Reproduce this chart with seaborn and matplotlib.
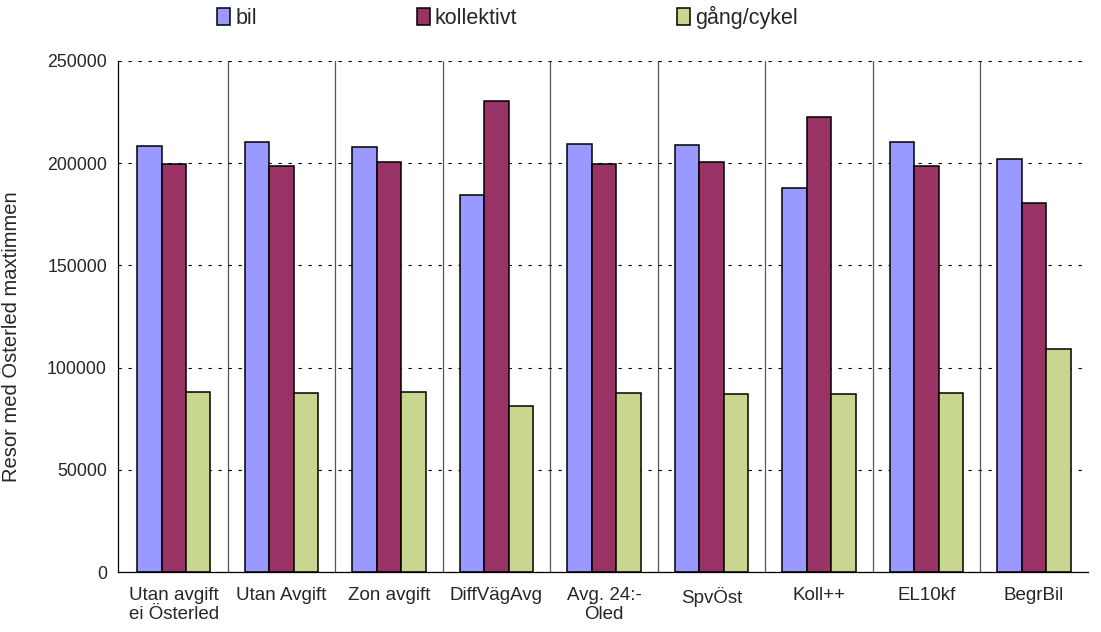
import pandas as pd
import matplotlib
matplotlib.use("Agg")
import matplotlib.pyplot as plt
import seaborn as sns

scenarier = ["Utan avgift\nei Österled", "Utan Avgift", "Zon avgift", "DiffVägAvg",
             "Avg. 24:-\nÖled", "SpvÖst", "Koll++", "EL10kf", "BegrBil"]
bil = [208400, 210200, 207800, 184600, 209400, 209100, 187900, 210500, 201900]
kollektivt = [199800, 198800, 200700, 230400, 199500, 200700, 222400, 198500, 180700]
gang_cykel = [87900, 87400, 88200, 81100, 87700, 86900, 86900, 87400, 109200]
serier = ["bil", "kollektivt", "gång/cykel"]
farger = ["#9999FF", "#993366", "#C9D68F"]

df = pd.DataFrame({"scenario": scenarier, "bil": bil,
                   "kollektivt": kollektivt, "gång/cykel": gang_cykel})
df = df.melt(id_vars="scenario", var_name="färdsätt", value_name="resor")

sns.set_style("white")
plt.rcParams["font.family"] = ["Liberation Sans", "DejaVu Sans"]

fig = plt.figure(figsize=(11.01, 6.32), dpi=100)
ax = fig.add_axes([0.1072, 0.0949, 0.8808, 0.8086])

sns.barplot(data=df, x="scenario", y="resor", hue="färdsätt", hue_order=serier,
            palette=farger, saturation=1, width=0.68, edgecolor="black",
            linewidth=1.1, ax=ax, legend=True)

ax.set_ylim(0, 250000)
ax.set_xlim(-0.52, len(scenarier) - 0.5)
ax.set_yticks(range(0, 250001, 50000))
ax.yaxis.grid(True, color="black", linestyle=(0, (3, 6)), linewidth=0.8)
ax.set_axisbelow(True)
for k in range(len(scenarier) - 1):
    ax.axvline(k + 0.5, color="#555555", linewidth=0.9, zorder=0.5)

for s in ["top", "right"]:
    ax.spines[s].set_visible(False)
ax.spines["left"].set_color("black")
ax.spines["bottom"].set_color("black")
ax.spines["left"].set_linewidth(0.9)
ax.spines["bottom"].set_linewidth(0.9)

ax.set_xticks([k - 0.5 for k in range(len(scenarier) + 1)], minor=True)
ax.tick_params(axis="x", which="minor", length=7, width=0.9, color="black", direction="out")
ax.tick_params(axis="x", which="major", length=0, pad=11, labelsize=13.5)
ax.tick_params(axis="y", length=5, width=0.9, color="black", direction="out", labelsize=12.8, pad=3)
for lbl in ax.get_xticklabels():
    lbl.set_linespacing(1.15)
ax.set_xlabel("")
ax.set_ylabel("Resor med Österled maxtimmen", fontsize=14.5)
ax.yaxis.set_label_coords(-0.1, 0.46)

handles, labels = ax.get_legend_handles_labels()
ax.get_legend().remove()
fig.legend(handles, labels, loc="center left", bbox_to_anchor=(0.1975, 0.972), ncol=3,
           frameon=False, fontsize=15.5, handlelength=0.6, handleheight=0.85,
           handletextpad=0.25, columnspacing=7.4, borderpad=0, borderaxespad=0)

fig.savefig("out.png", dpi=100)
